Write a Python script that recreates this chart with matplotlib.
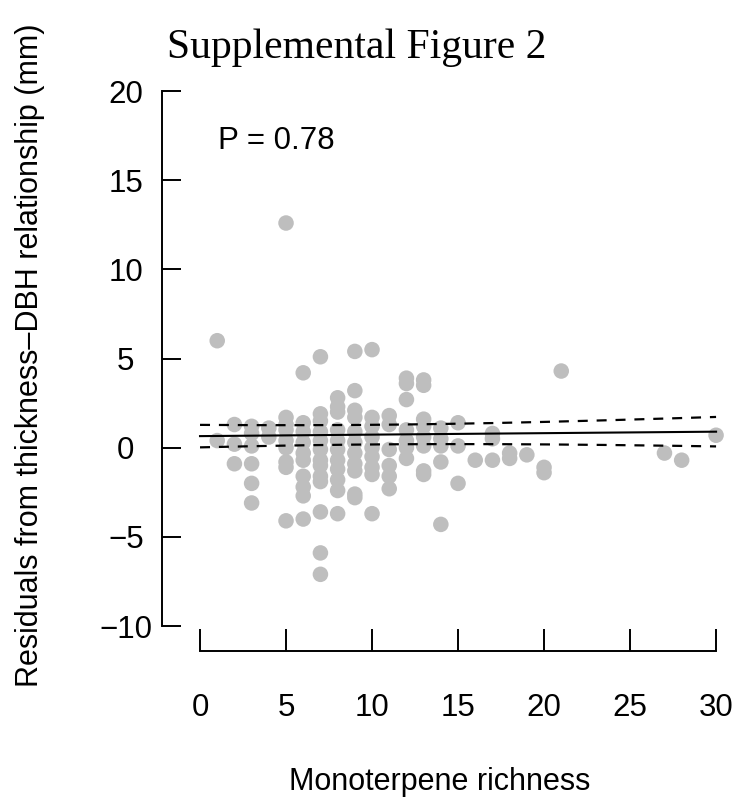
import numpy as np
import matplotlib
matplotlib.use("Agg")
import matplotlib.pyplot as plt

# residuals vs monoterpene richness
richness = (
    [1, 1]
    + [2, 2, 2]
    + [3] * 6
    + [4, 4]
    + [5] * 9
    + [6] * 10
    + [7] * 13
    + [8] * 11
    + [9] * 11
    + [10] * 9
    + [11] * 6
    + [12] * 7
    + [13] * 8
    + [14] * 5
    + [15] * 3
    + [16]
    + [17] * 3
    + [18, 18]
    + [19]
    + [20, 20]
    + [21, 27, 28, 30]
)
residuals = (
    [6.0, 0.4]
    + [1.3, 0.2, -0.9]
    + [1.2, 0.8, 0.1, -0.9, -2.0, -3.1]
    + [1.1, 0.6]
    + [12.6, 1.7, 1.3, 1.0, 0.4, 0.0, -0.8, -1.1, -4.1]
    + [4.2, 1.4, 0.9, 0.3, -0.3, -0.7, -1.6, -2.2, -2.7, -4.0]
    + [5.1, 1.9, 1.5, 0.9, 0.4, -0.1, -0.7, -1.0, -1.6, -1.9, -3.6, -5.9, -7.1]
    + [2.8, 2.3, 2.0, 1.0, 0.4, -0.1, -0.7, -1.2, -1.8, -2.4, -3.7]
    + [5.4, 3.2, 2.1, 1.7, 0.9, 0.3, -0.3, -0.9, -1.3, -2.6, -2.8]
    + [5.5, 1.7, 1.2, 0.6, 0.0, -0.5, -1.1, -1.5, -3.7]
    + [1.8, 1.3, -0.1, -1.0, -1.6, -2.3]
    + [3.9, 3.6, 2.7, 1.0, 0.4, 0.0, -0.6]
    + [3.8, 3.5, 1.6, 1.2, 0.6, 0.1, -1.3, -1.5]
    + [1.1, 0.5, 0.1, -0.8, -4.3]
    + [1.4, 0.1, -2.0]
    + [-0.7]
    + [0.8, 0.5, -0.7]
    + [-0.3, -0.6]
    + [-0.4]
    + [-1.1, -1.4]
    + [4.3, -0.3, -0.7, 0.7]
)

# fitted line and its confidence band
fit_intercept = 0.65
fit_slope = 0.0083
ci_center = 10
ci_half_min = 0.55
ci_curvature = 0.00095
p_value = 0.78

x_ticks = [0, 5, 10, 15, 20, 25, 30]
y_ticks = [-10, -5, 0, 5, 10, 15, 20]

plt.rcParams['font.family'] = ['Liberation Sans', 'DejaVu Sans']

fig = plt.figure(figsize=(7.37, 8.06), dpi=100)
ax = fig.add_axes([162 / 737, 155 / 806, (730 - 162) / 737, (721 - 155) / 806])

ax.scatter(richness, residuals, s=125, color="#bebebe", edgecolors="none", zorder=2)

xs = np.linspace(0, 30, 200)
fit = fit_intercept + fit_slope * xs
half = np.sqrt(ci_half_min ** 2 + ci_curvature * (xs - ci_center) ** 2)
ax.plot(xs, fit, color="black", lw=1.5, zorder=3)
ax.plot(xs, fit + half, color="black", lw=1.6, ls=(0, (4.5, 4)), zorder=3)
ax.plot(xs, fit - half, color="black", lw=1.6, ls=(0, (4.5, 4)), zorder=3)

ax.text(1.05, 17.2, "P = %.2f" % p_value, fontsize=22.5, va="center", ha="left")

ax.set_xlim(-2.21, 30.81)
ax.set_ylim(-11.4, 20.34)
ax.set_xticks(x_ticks)
ax.set_yticks(y_ticks)

for side in ["top", "right"]:
    ax.spines[side].set_visible(False)
ax.spines["left"].set_bounds(-10, 20)
ax.spines["bottom"].set_bounds(0, 30)
for side in ["left", "bottom"]:
    ax.spines[side].set_linewidth(1.4)

ax.tick_params(axis="y", direction="in", length=13.7, width=1.4, pad=26, labelsize=22.5)
ax.tick_params(axis="x", direction="in", length=15.8, width=1.4, pad=30, labelsize=22.5)
for lab in ax.get_yticklabels():
    lab.set_horizontalalignment("center")

fig.text(356.5 / 737, 1 - 58 / 806, "Supplemental Figure 2",
         family=["Liberation Serif", "DejaVu Serif"], fontsize=30,
         ha="center", va="baseline")
fig.text(440 / 737, 1 - 790 / 806, "Monoterpene richness", fontsize=22,
         ha="center", va="baseline")
fig.text(30 / 737, 1 - 355 / 806, "Residuals from thickness\u2013DBH relationship (mm)",
         fontsize=22, rotation=90, ha="center", va="center")

fig.savefig("out.png", dpi=100)
